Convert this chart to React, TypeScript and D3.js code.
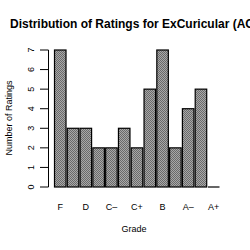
import * as d3 from "d3";

const grades = ["F", "D-", "D", "D+", "C-", "C", "C+", "B-", "B", "B+", "A-", "A", "A+"];
const counts = [7, 3, 3, 2, 2, 3, 2, 5, 7, 2, 4, 5, 0];
const yTicks = [0, 1, 2, 3, 4, 5, 6, 7];
const shownLabels = ["F", "D", "C-", "C+", "B", "A-", "A+"];

const title = "Distribution of Ratings for ExCuricular (ACT)";
const font = "'Liberation Sans', Arial, sans-serif";

const App = () => {
  const x = d3.scaleBand().domain(grades).range([54.5, 219.5]).paddingInner(0.1).paddingOuter(0);
  const y = d3.scaleLinear().domain([0, 7]).range([187, 50]);

  return (
    <svg
      width={250}
      height={250}
      style={{ position: "absolute", left: 0, top: 0, background: "white" }}
      fontFamily={font}
    >
      <defs>
        <pattern id="dots" width={2} height={2} patternUnits="userSpaceOnUse">
          <rect width={2} height={2} fill="#a8a8a8" />
          <rect width={1} height={1} fill="#6a6a6a" />
          <rect x={1} y={1} width={1} height={1} fill="#6a6a6a" />
        </pattern>
      </defs>

      <text x={10} y={28} fontSize={12} fontWeight="bold">{title}</text>

      {/* y axis */}
      <line x1={48.5} x2={48.5} y1={y(0)} y2={y(7)} stroke="black" />
      {yTicks.map((t) => (
        <g key={t}>
          <line x1={40} x2={48.5} y1={y(t)} y2={y(t)} stroke="black" />
          <text
            transform={`translate(34,${y(t)}) rotate(-90)`}
            textAnchor="middle"
            fontSize={9}
          >
            {t}
          </text>
        </g>
      ))}
      <text
        transform="translate(12,118) rotate(-90)"
        textAnchor="middle"
        fontSize={9}
      >
        Number of Ratings
      </text>

      {/* bars */}
      {grades.map((g, i) =>
        counts[i] > 0 ? (
          <rect
            key={g}
            x={x(g)}
            y={y(counts[i])}
            width={x.bandwidth()}
            height={y(0) - y(counts[i])}
            fill="url(#dots)"
            stroke="black"
            strokeWidth={1.2}
          />
        ) : (
          <line
            key={g}
            x1={x(g)}
            x2={(x(g) ?? 0) + x.bandwidth()}
            y1={y(0)}
            y2={y(0)}
            stroke="black"
            strokeWidth={1.2}
          />
        )
      )}

      {/* x labels */}
      {shownLabels.map((g) => (
        <text
          key={g}
          x={(x(g) ?? 0) + x.bandwidth() / 2}
          y={210}
          textAnchor="middle"
          fontSize={9}
        >
          {g.replace("-", "\u2013")}
        </text>
      ))}
      <text x={134} y={232} textAnchor="middle" fontSize={9}>Grade</text>
    </svg>
  );
};

export default App;
